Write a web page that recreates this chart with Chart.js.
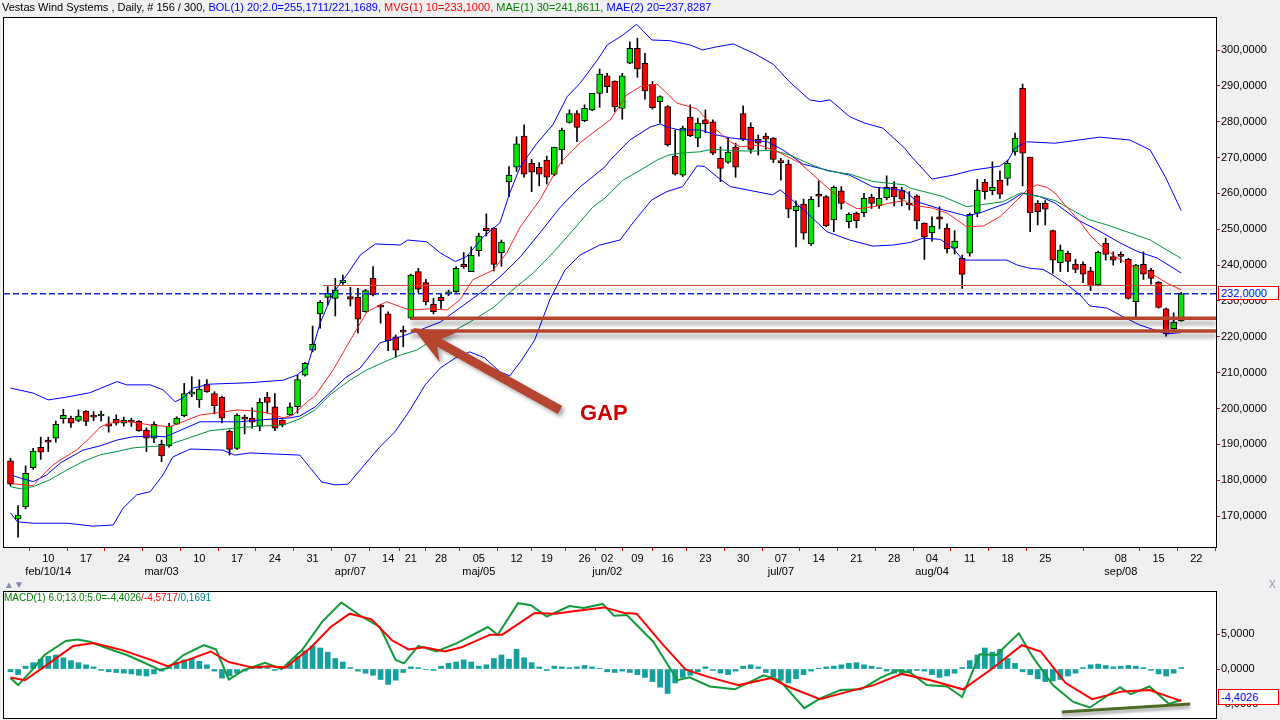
<!DOCTYPE html>
<html><head><meta charset="utf-8">
<script src="https://cdn.jsdelivr.net/npm/chart.js@4.4.1/dist/chart.umd.min.js"></script>
<style>
html,body{margin:0;padding:0;background:#f0f0f0;width:1280px;height:720px;overflow:hidden;font-family:"Liberation Sans",Arial,sans-serif;}
canvas{position:absolute;left:0;}
#main{top:0;}
#macd{top:590px;}
.t{position:absolute;white-space:nowrap;}
.hdr{left:2px;top:0px;font-size:11px;line-height:14px;}
.mhdr{left:4px;top:592px;font-size:10px;line-height:12px;}
.box{border:1px solid #ff0000;background:#fff;color:#0000ff;font-size:11px;line-height:12px;padding-left:2px;box-sizing:border-box;}
.gap{left:580px;top:402px;font-size:22px;line-height:22px;font-weight:bold;color:#cc0000;}
.sep{color:#7d8cae;font-size:10px;line-height:12px;}
</style></head><body>
<canvas id="main" width="1280" height="578"></canvas>
<canvas id="macd" width="1280" height="130"></canvas>
<div class="t hdr"><span style="color:#000">Vestas Wind Systems , Daily, # 156 / 300, </span><span style="color:#0000ff">BOL(1) 20;2.0=255,1711/221,1689, </span><span style="color:#ff0000">MVG(1) 10=233,1000, </span><span style="color:#008000">MAE(1) 30=241,8611, </span><span style="color:#0000ff">MAE(2) 20=237,8287</span></div>
<div class="t mhdr"><span style="color:#008000">MACD(1) 6.0;13.0;5.0=-4,4026</span><span style="color:#ff0000">/-4,5717</span><span style="color:#008080">/0,1691</span></div>
<div class="t gap">GAP</div>
<div class="t box" style="left:1218px;top:286px;width:61px;height:14px;">232,0000</div>
<div class="t box" style="left:1218px;top:689px;width:61px;height:16px;line-height:14px;">-4,4026</div>
<div class="t sep" style="left:4px;top:579px;">▲▼</div>
<div class="t sep" style="left:1269px;top:579px;">X</div>
<script>
// ---------- DATA ----------
const opens = [185.4,169.1,172.6,183.5,189.2,191.2,191.7,197.2,197.3,196.7,
199.3,197.8,197.9,195.7,197.0,195.9,196.4,196.4,194.0,191.7,
190.0,189.6,195.6,198.0,204.0,202.4,206.8,204.2,203.1,193.7,
188.9,197.6,197.3,195.1,203.1,200.5,196.8,198.2,200.5,209.3,
216.3,226.4,231.0,230.7,235.1,231.2,231.0,227.0,236.3,228.5,
226.4,220.0,221.5,225.2,238.2,235.1,229.1,231.0,232.0,232.6,
240.2,238.2,244.0,250.3,250.3,243.5,263.3,267.3,276.0,268.4,
267.3,269.3,265.3,272.1,279.8,282.3,280.3,283.3,287.9,292.8,
291.3,283.7,296.3,300.5,296.3,290.4,285.6,284.2,270.4,265.1,
281.2,275.4,280.5,280.0,269.8,268.7,272.9,282.3,278.4,275.1,
276.0,275.4,268.8,268.2,255.2,257.0,245.9,259.4,259.1,252.6,
260.7,252.1,254.5,254.6,258.9,256.5,258.8,261.7,260.8,257.4,
259.3,251.7,249.0,253.5,250.3,244.7,241.9,243.3,254.5,263.1,
260.8,263.7,264.2,271.6,289.3,270.1,257.2,257.2,249.6,240.7,
243.3,240.3,240.2,238.4,234.5,246.1,242.4,243.0,241.6,229.8,
240.2,238.6,235.2,227.8,222.3,224.4];
const highs = [186.1,172.9,184.0,188.9,192.0,192.0,196.5,199.8,197.9,199.6,
199.4,199.1,199.3,197.7,198.2,197.6,197.3,196.6,194.6,196.3,
191.2,195.9,197.7,207.0,208.9,208.0,208.1,204.7,203.5,194.0,
198.5,198.2,200.2,202.8,204.5,204.2,196.9,201.6,209.3,212.9,
223.0,230.1,234.0,236.3,237.2,233.8,233.5,233.2,239.6,229.1,
227.0,220.5,223.0,237.5,239.1,236.0,230.7,232.1,233.0,239.6,
243.5,245.1,248.9,254.3,250.5,247.0,267.5,275.8,279.1,269.5,
268.6,270.4,272.9,278.2,283.3,283.1,284.7,287.9,294.7,293.5,
291.4,293.5,302.3,303.3,299.1,291.2,287.2,284.5,277.7,278.8,
284.7,281.0,283.3,280.5,273.0,275.6,274.0,284.4,279.7,276.3,
276.8,275.6,269.8,269.3,257.9,258.4,259.1,263.5,259.4,262.1,
261.9,254.6,254.8,260.0,259.8,261.7,264.9,263.3,261.7,260.5,
259.6,251.8,253.5,256.3,251.5,249.6,242.8,254.5,263.9,263.9,
268.8,266.3,269.3,276.8,290.5,270.1,258.0,258.0,249.8,245.6,
243.9,241.6,240.9,239.4,243.9,247.5,243.7,243.7,241.9,240.2,
243.7,239.1,235.4,228.0,226.7,232.4];
const lows = [178.4,164.1,172.0,183.0,185.8,188.0,190.6,195.9,194.7,196.3,
195.2,196.6,196.5,193.4,195.4,195.1,195.0,193.6,188.0,190.5,
185.2,189.2,195.5,197.7,203.3,200.3,204.5,198.5,196.0,187.0,
188.6,192.9,194.5,193.8,198.7,193.8,194.9,197.9,198.7,209.0,
215.8,222.4,228.9,225.8,234.6,228.6,221.1,226.9,231.4,223.8,
216.1,214.3,217.2,224.9,232.3,228.9,226.4,227.9,231.5,232.4,
239.1,238.2,242.5,248.1,238.4,239.7,259.1,266.1,264.5,260.5,
262.1,262.6,264.9,268.2,279.6,274.4,280.0,283.1,284.0,288.1,
282.8,280.7,296.2,292.4,286.3,283.5,279.6,273.2,265.1,264.7,
275.8,273.0,276.9,270.8,263.3,268.4,264.5,274.7,271.2,270.7,
272.3,268.6,263.7,253.2,245.1,247.2,245.4,256.3,250.7,249.3,
255.6,250.4,250.4,253.5,255.8,255.8,258.2,256.5,256.5,255.4,
250.1,241.6,246.7,250.1,243.3,243.1,233.5,242.5,253.5,258.4,
259.6,258.6,262.3,270.7,262.1,249.3,251.2,251.2,237.7,238.2,
238.2,237.9,235.1,232.9,234.2,241.4,240.0,240.7,230.5,225.6,
236.0,234.7,228.0,220.2,221.9,224.3];
const closes = [178.9,170.3,181.9,188.1,187.8,190.6,195.6,198.1,195.9,197.9,
196.4,197.6,198.1,195.1,195.9,196.8,196.2,193.8,191.7,195.6,
186.8,195.1,197.3,204.2,204.3,205.4,204.7,200.8,197.3,188.6,
198.2,197.0,196.2,201.7,201.7,194.5,195.4,200.5,208.1,212.6,
217.9,229.6,232.1,233.1,235.8,230.5,224.9,232.9,231.7,228.3,
218.9,216.3,221.3,237.2,233.3,229.8,227.0,230.1,232.2,239.1,
239.6,242.8,248.1,249.6,240.2,246.4,265.1,273.8,265.4,265.9,
265.4,264.5,272.9,277.7,282.3,278.4,283.7,287.9,293.3,289.8,
284.2,292.8,300.5,294.7,288.6,283.9,287.0,273.5,265.4,278.2,
276.1,279.6,279.4,271.2,267.0,271.5,267.3,275.1,272.3,274.0,
275.1,269.5,268.6,255.6,256.5,248.9,258.4,259.2,251.0,261.7,
257.2,254.2,252.4,258.6,257.2,258.6,261.7,259.1,258.4,256.8,
252.3,247.8,250.9,252.8,244.5,246.7,237.4,254.2,260.9,260.5,
261.7,259.8,268.4,275.4,271.2,254.6,254.9,255.6,241.4,244.2,
241.0,238.8,237.5,234.2,243.6,243.0,241.4,242.4,230.7,240.0,
237.5,236.3,228.2,220.8,224.1,232.0];

// indicator lines: [bar index, value]
const bolUpper = [[0,205.7],[3,204.3],[5,202.4],[7.5,203.2],[10.5,204.4],[14.1,207.5],[15.4,206.6],[18.5,206.6],[20.2,205.2],[21.8,201.9],[22.8,202.9],[24.2,205.7],[26.4,206.8],[31.7,207.2],[36.1,207.9],[37.9,209.3],[39.3,211.6],[41,223.9],[42.7,232.2],[44.7,237.8],[46.3,242.8],[48.3,245.9],[51.6,245.6],[52.6,247.0],[55.1,246.5],[56.9,243.4],[58.9,241.0],[60.4,242.4],[62.6,247.9],[64.8,251.8],[66.1,260.1],[67.5,267.5],[69.7,274.0],[71.8,279.1],[73.7,287.0],[75.4,290.7],[77.7,297.2],[79,301.4],[81.1,304.2],[82.9,307.2],[84.9,302.8],[87.3,302.6],[90,301.4],[91.6,300.0],[93.5,300.9],[95.7,301.7],[98.6,298.9],[101,296.0],[103.2,291.0],[105.8,286.1],[107.2,285.6],[108.5,286.1],[111.1,281.4],[113.1,279.6],[115.5,278.2],[118.4,272.6],[119.1,270.7],[122,264.0],[124.8,265.1],[127.4,266.5],[131,267.6],[132.1,269.3],[133,272.7],[134.6,274.4],[138.3,274.0],[144.2,275.7],[148.2,274.9],[150.9,272.1],[152.9,264.6],[155,255.2]];
const bolLower = [[0,170.9],[0.9,168.4],[3,168.0],[7.5,168.0],[10.9,167.2],[13.6,167.5],[14.9,172.2],[16.7,175.9],[18.5,176.8],[20.2,181.5],[21.5,186.5],[23.8,188.7],[28.1,188.4],[29.7,187.0],[31.7,187.6],[38.3,187.0],[39.9,182.9],[41.2,179.5],[43,178.7],[44.7,178.9],[46.3,182.9],[48.9,189.3],[50.9,193.5],[52.9,199.6],[54.9,206.6],[56.9,211.3],[58.9,214.1],[60.8,215.8],[62.8,214.1],[64.8,210.2],[66.1,209.1],[67.5,213.0],[69.4,219.1],[71.4,230.3],[73.4,238.6],[75.4,242.8],[78,245.6],[80.7,247.0],[82.7,252.6],[84.9,258.2],[86.9,260.5],[89,261.9],[90.9,267.7],[91.9,267.5],[93.5,264.7],[95.3,261.9],[97.5,261.0],[100.9,259.6],[101.9,261.0],[103.2,258.7],[105.5,254.5],[108.1,249.3],[111.1,247.0],[114.2,245.3],[116.8,245.6],[119.1,246.3],[120.8,247.5],[123.1,247.2],[124.8,244.7],[126.1,241.4],[131.9,241.4],[133.3,240.0],[135,239.1],[136.7,238.8],[138,237.2],[139.9,234.5],[141.6,231.7],[142.9,228.6],[145.2,228.0],[147.3,225.6],[149.5,223.3],[151.5,221.9],[153.1,220.8],[155,221.2]];
const mvg10 = [[0.3,179.0],[3,178.5],[4.3,181.5],[5.6,184.2],[7,186.2],[8.8,188.5],[10.5,191.8],[11.9,194.9],[14.1,196.5],[16.2,196.2],[18.5,195.4],[21.1,194.9],[22.8,196.3],[25.1,198.2],[27.3,198.8],[30,199.6],[31.7,199.4],[34,198.8],[36.1,197.4],[37.4,198.2],[39.3,201.9],[40.3,203.5],[42.7,210.7],[45,219.1],[47.2,227.0],[49.8,229.8],[51.6,228.4],[52.9,227.5],[55.5,227.8],[57.8,227.5],[59.5,230.3],[61.2,235.9],[63.9,238.6],[65.7,243.4],[67.5,250.7],[70.1,258.2],[72.8,268.5],[75.4,274.1],[77.1,276.9],[79.4,280.5],[81.6,287.5],[83.4,289.8],[85.6,290.5],[86.9,288.0],[88.2,285.2],[90.9,283.6],[93,278.6],[95.3,274.4],[96.6,273.0],[99.2,273.5],[101.9,271.3],[104.5,268.5],[106.3,265.1],[108.5,261.0],[110.7,257.3],[112.1,255.7],[114.2,256.3],[116.4,257.3],[118.4,258.0],[119.1,256.8],[122.1,255.9],[124,254.5],[126.6,250.7],[128.8,250.9],[131,253.5],[133.3,258.2],[134.6,261.0],[135.9,262.4],[137.2,261.7],[138.3,260.1],[139.6,256.8],[141.6,252.1],[142.9,248.4],[144,246.1],[146.5,242.0],[148.6,239.6],[150.9,237.8],[153.1,235.0],[155,233.1]];
const mae20 = [[0,181.5],[1.3,180.6],[3,179.6],[4.8,181.5],[6.6,184.8],[9.6,188.4],[11.9,189.6],[14.1,191.2],[16.2,192.1],[18.5,192.3],[20.5,192.1],[25.1,196.3],[30.4,196.3],[33,196.8],[37,197.4],[38.3,197.9],[40.3,200.4],[44.3,208.5],[46.3,211.3],[48.9,218.3],[51.6,220.0],[54.2,221.9],[56.9,224.1],[59.5,228.1],[62.2,232.2],[64.8,236.7],[67.5,242.3],[70.1,249.0],[72.8,256.2],[75.4,261.8],[78.7,267.4],[79.4,269.3],[82,274.9],[84.7,278.5],[86,279.4],[86.9,278.5],[88.6,277.7],[91.3,277.7],[93.5,276.3],[95.3,275.5],[98.6,274.7],[100.2,274.4],[102.3,272.1],[104.9,268.2],[108.1,266.5],[111.1,265.1],[114.2,261.8],[118.4,260.8],[120,257.7],[123.5,255.4],[126.6,253.7],[128.4,254.6],[131.9,257.3],[134,260.1],[136.3,259.1],[138.3,257.3],[141.3,252.6],[143.9,249.8],[146.9,246.2],[149.2,243.8],[151.8,242.0],[155,237.8]];
const mae30 = [[0,178.2],[1.3,177.6],[3,178.2],[5.2,180.1],[7.5,182.9],[9.6,185.2],[11.9,187.1],[14.1,188.0],[16.2,189.0],[18.5,189.4],[20.5,189.6],[22.8,191.2],[26.4,193.8],[30,194.6],[33,195.1],[36.1,195.4],[38.3,197.1],[40.3,199.6],[42.3,203.8],[45,208.0],[47.2,210.8],[49.3,212.8],[51.6,214.9],[53.8,216.3],[55.9,219.1],[58.9,221.9],[60.8,224.1],[63.9,228.1],[66.5,233.1],[69.2,237.8],[71.8,243.4],[74.5,249.8],[77.1,256.2],[78.7,258.7],[81.1,263.7],[83.4,266.5],[85.6,269.3],[87.1,270.7],[89,271.3],[91.3,271.6],[93,272.4],[95.3,271.9],[98.6,271.8],[100.9,272.1],[103.2,270.7],[105.5,268.5],[108.1,266.3],[111.1,265.4],[114.2,263.3],[118.4,262.4],[119.1,261.5],[123.5,259.1],[126.6,256.3],[128.4,256.8],[131.4,257.7],[133.7,260.1],[136.3,259.1],[138.3,258.0],[142.9,252.6],[145.2,251.2],[148.2,249.0],[150.9,247.0],[153.1,244.2],[155,241.9]];

// MACD panel
const macdLine = [[0,-1.3],[1,-2.3],[2.9,-0.1],[4.5,2.0],[7.3,4.0],[8.9,4.2],[10.5,3.9],[12.7,3.0],[15.4,2.0],[17.5,1.0],[19.7,-0.1],[20.8,0.1],[22.9,2.0],[25.6,3.4],[27.2,2.8],[28.9,-1.5],[31,-0.1],[33.7,0.9],[35.9,0],[38.6,2.7],[41.3,6.8],[43.8,9.5],[46.2,7.7],[48.9,6.0],[51,1.3],[52.1,0.8],[54,3.3],[56.4,2.5],[59.1,3.7],[63.2,6.0],[64.5,4.9],[67.2,9.4],[68.9,9.1],[71,7.5],[74,9.0],[75.9,8.7],[78.4,9.3],[79.9,7.6],[81.6,7.7],[85.1,3.9],[88.3,-1.6],[89.9,-1.2],[92.6,-2.5],[95.9,-2.9],[99.7,-0.9],[101.8,-1.6],[105.1,-5.6],[107.2,-4.2],[109.9,-3.0],[112.6,-2.9],[115.3,-1.2],[117.5,-0.2],[119.1,-0.5],[121.3,-2.3],[124,-2.5],[126,-4.0],[128.3,2.1],[130.5,2.0],[133.5,5.1],[135.3,1.8],[138,-2.3],[140.7,-4.7],[142.9,-5.5],[146.9,-2.6],[148.3,-3.6],[150.8,-2.5],[153.4,-5.0],[155,-4.4]];
const macdSignal = [[0,-1.2],[1.9,-1.6],[5.1,0.8],[8.3,3.3],[11,3.7],[14.8,2.7],[18.6,1.3],[20.8,0.4],[23.5,1.3],[26.5,2.5],[28.9,1.0],[32.1,0.2],[34.3,0.4],[36.4,0.2],[39.7,3.0],[42.4,6.0],[44.9,7.9],[47.8,7.1],[50.5,4.1],[52.7,2.8],[54.8,3.1],[57.5,2.5],[59.7,3.1],[63.5,4.9],[65.1,4.9],[69.4,8.0],[72.1,7.9],[74.8,8.3],[78.6,8.8],[81.3,8.0],[82.9,7.9],[86.2,3.7],[89.4,-0.1],[92.6,-1.2],[96.4,-2.3],[100.7,-1.3],[102.9,-2.5],[107.2,-4.3],[111,-3.2],[114.3,-2.3],[118,-0.7],[121.8,-1.6],[126.1,-2.9],[129.9,0],[133.9,3.4],[136.4,2.5],[139.7,-2.0],[143.2,-4.3],[147.2,-3.2],[150.8,-3.0],[154,-4.2],[155,-4.57]];
const macdHist = [-0.4,-0.8,0.4,0.9,
1.4,1.8,2.0,1.6,1.2,
0.9,0.6,0.3,-0.2,-0.4,
-0.5,-0.6,-0.7,-0.9,-1.0,-0.7,-0.3,
0.4,0.9,1.3,1.5,1.1,0.6,
-0.3,-1.3,-1.0,-0.6,-0.3,
0.2,0.4,0.2,-0.2,0.3,
1.0,1.8,2.6,3.3,3.0,2.4,1.5,1.0,
0.2,-0.3,-0.6,-0.9,-1.5,-2.2,-1.6,-0.5,
0.3,0.2,-0.1,-0.2,0.4,0.8,
1.0,1.3,1.0,0.4,0.6,1.5,2.0,1.4,
2.8,1.6,0.9,0.3,-0.2,0.4,
0.3,0.2,0.3,0.5,0.3,0.1,-0.4,-0.5,
-0.3,-0.5,-0.8,-1.2,-1.8,-2.6,
-3.5,-2.0,-1.2,-0.9,-0.4,0.3,
-0.2,-0.6,-0.8,-0.3,0.4,0.6,0.3,
-0.5,-1.2,-1.6,-2.0,-1.4,-0.8,-0.3,
0.1,0.3,0.4,0.6,0.8,0.9,0.6,
0.4,0.2,-0.3,-0.6,-0.8,-0.5,-0.2,
-0.3,-0.8,-1.2,-1.0,-0.6,0.2,1.2,
2.0,3.0,2.4,2.8,1.5,0.8,-0.4,
-0.8,-1.4,-1.8,-1.7,-1.5,-1.0,-0.6,
0.2,0.6,0.7,0.5,0.3,0.4,0.5,
0.4,0.2,-0.2,-0.7,-1.0,-0.6,0.2];

// axis labels
const tickIdx   = [5,10,15,20,25,30,35,40,45,50,53,57,62,67,71,76,79,83,87,92,97,102,107,112,117,122,127,132,137,147,152,157];
const dayLabels = ["10","17","24","03","10","17","24","31","07","14","21","28","05","12","19","26","02","09","16","23","30","07","14","21","28","04","11","18","25","08","15","22"];
const monthLabels = {5:"feb/10/14",20:"mar/03",45:"apr/07",62:"maj/05",79:"jun/02",102:"jul/07",122:"aug/04",147:"sep/08"};
const priceTicks = [170,180,190,200,210,220,230,240,250,260,270,280,290,300];
const macdTicks = [-5,0,5];

// annotations (values)
const lastPrice = 232.0;
const resistLevel = 234.45, resistFrom = 41.4;
const gapLevels = [225.16, 221.6], gapFrom = 53;
const arrowTail = [72.75, 199.6], arrowTip = [53.3, 222.45];
const macdTrend = [[139.2,-6.14],[156.2,-5.0]];

// ---------- CHARTS ----------
Chart.defaults.font.family = "'Liberation Sans', Arial, sans-serif";
Chart.defaults.font.size = 11;
Chart.defaults.color = '#000';

const X_MIN = -0.8606, X_MAX = 159.605;
const idx = closes.map((_, i) => i);
const xy = a => a.map(p => ({x: p[0], y: p[1]}));
const fmt = v => v.toFixed(4).replace('.', ',').replace('-0,0000','0,0000');

function lineDs(arr, color, w, order) {
  return {type: 'line', data: xy(arr), borderColor: color, borderWidth: w, pointRadius: 0, tension: 0, fill: false, order: order};
}

function frameAndBg(id) {
  return {
    id: id,
    beforeDraw(chart) {
      const {ctx, chartArea: a} = chart;
      ctx.save(); ctx.fillStyle = '#ffffff';
      ctx.fillRect(a.left, a.top, a.right - a.left, a.bottom - a.top);
      ctx.restore();
    },
    afterDraw(chart) {
      const {ctx, chartArea: a} = chart;
      ctx.save(); ctx.strokeStyle = '#000'; ctx.lineWidth = 1;
      ctx.strokeRect(a.left - 0.5, a.top - 0.5, a.right - a.left + 1, a.bottom - a.top + 1);
      ctx.restore();
    }
  };
}

function arrow(ctx, x1, y1, x2, y2) {
  const ang = Math.atan2(y2 - y1, x2 - x1);
  const L = Math.hypot(x2 - x1, y2 - y1);
  const hl = 40, hw = 17, sw = 4.5;
  ctx.save();
  ctx.translate(x2, y2); ctx.rotate(ang);
  ctx.beginPath();
  ctx.moveTo(0, 0);
  ctx.lineTo(-hl, -hw);
  ctx.lineTo(-hl + 10, -sw);
  ctx.lineTo(-L, -sw);
  ctx.lineTo(-L, sw);
  ctx.lineTo(-hl + 10, sw);
  ctx.lineTo(-hl, hw);
  ctx.closePath();
  ctx.fill();
  ctx.restore();
}

const mainOverlay = {
  id: 'mainOverlay',
  afterDatasetsDraw(chart) {
    const {ctx, chartArea: a, scales: {x, y}} = chart;
    ctx.save();
    ctx.beginPath(); ctx.rect(a.left, a.top, a.right - a.left, a.bottom - a.top); ctx.clip();
    ctx.save();
    ctx.shadowColor = 'rgba(0,0,0,0.35)'; ctx.shadowBlur = 3; ctx.shadowOffsetY = 4;
    ctx.strokeStyle = '#c0503c'; ctx.lineWidth = 1;
    let yy = Math.round(y.getPixelForValue(resistLevel)) + 0.5;
    ctx.beginPath(); ctx.moveTo(x.getPixelForValue(resistFrom), yy); ctx.lineTo(a.right, yy); ctx.stroke();
    ctx.restore();
    ctx.save();
    ctx.strokeStyle = '#1428d2'; ctx.lineWidth = 1.5; ctx.setLineDash([6, 3]);
    yy = y.getPixelForValue(lastPrice);
    ctx.beginPath(); ctx.moveTo(a.left, yy); ctx.lineTo(a.right, yy); ctx.stroke();
    ctx.restore();
    ctx.save();
    ctx.shadowColor = 'rgba(0,0,0,0.35)'; ctx.shadowBlur = 4; ctx.shadowOffsetY = 5;
    ctx.strokeStyle = '#b5432e'; ctx.lineWidth = 3.5;
    gapLevels.forEach(v => {
      const gy = y.getPixelForValue(v);
      ctx.beginPath(); ctx.moveTo(x.getPixelForValue(gapFrom), gy); ctx.lineTo(a.right, gy); ctx.stroke();
    });
    ctx.restore();
    ctx.save();
    ctx.shadowColor = 'rgba(0,0,0,0.35)'; ctx.shadowBlur = 4; ctx.shadowOffsetX = 3; ctx.shadowOffsetY = 3;
    ctx.fillStyle = '#b5452f';
    arrow(ctx, x.getPixelForValue(arrowTail[0]), y.getPixelForValue(arrowTail[1]),
               x.getPixelForValue(arrowTip[0]), y.getPixelForValue(arrowTip[1]));
    ctx.restore();
    ctx.restore();
  }
};

const noVPad = s => { s.width = 64; s.paddingTop = 0; s.paddingBottom = 0; };

new Chart(document.getElementById('main'), {
  type: 'bar',
  data: {
    datasets: [
      {data: idx.map(i => ({x: i, y: [lows[i], highs[i]]})), backgroundColor: '#000', barThickness: 1, grouped: false, order: 3},
      {data: idx.map(i => ({x: i, y: [opens[i], closes[i]]})),
       backgroundColor: c => (c.dataIndex !== undefined && closes[c.dataIndex] >= opens[c.dataIndex]) ? '#00e600' : '#ff0000',
       borderColor: '#000', borderWidth: 1, borderSkipped: false, barThickness: 6, minBarLength: 2, grouped: false, order: 2},
      lineDs(mae30, '#009640', 1, 1),
      lineDs(mae20, '#0000ff', 1, 1),
      lineDs(mvg10, '#ff2020', 1, 0),
      lineDs(bolUpper, '#0000ff', 1, 0),
      lineDs(bolLower, '#0000ff', 1, 0)
    ]
  },
  options: {
    responsive: false, animation: false, events: [],
    layout: {padding: {left: 4, top: 18, right: 0, bottom: 0}},
    plugins: {legend: {display: false}, tooltip: {enabled: false}},
    scales: {
      x: {
        type: 'linear', min: X_MIN, max: X_MAX, offset: false,
        grid: {drawOnChartArea: false, drawTicks: true, tickLength: 4, tickColor: '#ff0000'},
        border: {display: false},
        afterBuildTicks: s => { s.ticks = tickIdx.map(v => ({value: v})); },
        afterFit: s => { s.height = 31; s.paddingLeft = 0; s.paddingRight = 0; },
        ticks: {
          autoSkip: false, maxRotation: 0, minRotation: 0, padding: 1,
          font: {size: 11}, color: '#000',
          callback: v => { const k = tickIdx.indexOf(v); if (k < 0) return ''; return monthLabels[v] ? [dayLabels[k], monthLabels[v]] : dayLabels[k]; }
        }
      },
      y: {
        type: 'linear', position: 'right', min: 161.37, max: 308.93,
        grid: {drawOnChartArea: false, drawTicks: true, tickLength: 4, tickColor: '#ff0000'},
        border: {display: false},
        afterBuildTicks: s => { s.ticks = priceTicks.map(v => ({value: v})); },
        afterFit: noVPad,
        ticks: {padding: 1, font: {size: 11}, color: '#000', callback: v => fmt(v)}
      }
    }
  },
  plugins: [frameAndBg('fb1'), mainOverlay]
});

const macdOverlay = {
  id: 'macdOverlay',
  afterDatasetsDraw(chart) {
    const {ctx, chartArea: a, scales: {x, y}} = chart;
    ctx.save();
    ctx.beginPath(); ctx.rect(a.left, a.top, a.right - a.left, a.bottom - a.top); ctx.clip();
    ctx.shadowColor = 'rgba(0,0,0,0.35)'; ctx.shadowBlur = 3; ctx.shadowOffsetY = 3;
    ctx.strokeStyle = '#4d6b24'; ctx.lineWidth = 3;
    ctx.beginPath();
    ctx.moveTo(x.getPixelForValue(macdTrend[0][0]), y.getPixelForValue(macdTrend[0][1]));
    ctx.lineTo(x.getPixelForValue(macdTrend[1][0]), y.getPixelForValue(macdTrend[1][1]));
    ctx.stroke();
    ctx.restore();
  }
};

new Chart(document.getElementById('macd'), {
  type: 'bar',
  data: {
    datasets: [
      {data: idx.map(i => ({x: i, y: macdHist[i]})), backgroundColor: '#12a0a0', barThickness: 5, grouped: false, order: 3},
      lineDs(macdLine, '#109a3a', 2, 1),
      lineDs(macdSignal, '#ff0000', 2, 0)
    ]
  },
  options: {
    responsive: false, animation: false, events: [],
    layout: {padding: {left: 4, top: 2, right: 0, bottom: 2}},
    plugins: {legend: {display: false}, tooltip: {enabled: false}},
    scales: {
      x: {type: 'linear', min: X_MIN, max: X_MAX, offset: false, display: false},
      y: {
        type: 'linear', position: 'right', min: -7, max: 11,
        grid: {drawOnChartArea: false, drawTicks: true, tickLength: 4, tickColor: '#ff0000'},
        border: {display: false},
        afterBuildTicks: s => { s.ticks = macdTicks.map(v => ({value: v})); },
        afterFit: noVPad,
        ticks: {padding: 1, font: {size: 11}, color: '#000', callback: v => fmt(v)}
      }
    }
  },
  plugins: [frameAndBg('fb2'), macdOverlay]
});
</script>
</body></html>
